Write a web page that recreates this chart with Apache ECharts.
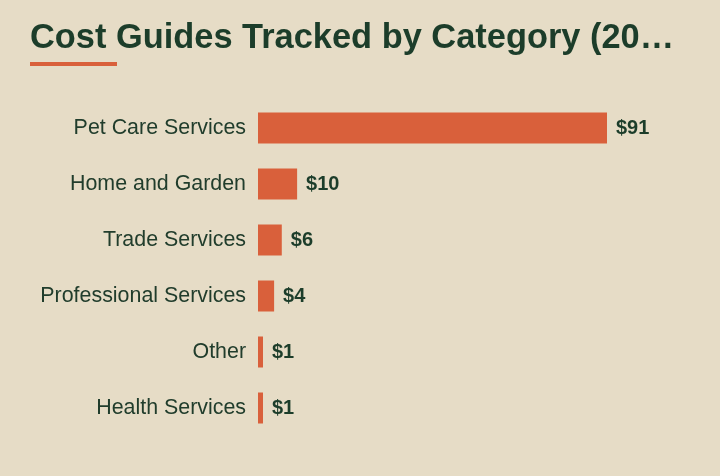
<!DOCTYPE html>
<html><head><meta charset="utf-8">
<script src="https://cdn.jsdelivr.net/npm/echarts@6/dist/echarts.min.js"></script>
<style>html,body{margin:0;padding:0;background:#e6dcc6;}#c{width:720px;height:476px;}</style>
</head><body><div id="c"></div>
<script>
var titleText = 'Cost Guides Tracked by Category (2024–2025)';
var categories = ['Pet Care Services','Home and Garden','Trade Services','Professional Services','Other','Health Services'];
var values = [91, 10.2, 6.2, 4.2, 1.3, 1.3];

var chart = echarts.init(document.getElementById('c'));
chart.setOption({
  backgroundColor: '#e6dcc6',
  animation: false,
  title: {
    text: titleText, left: 30, top: 22, padding: 0,
    textStyle: { fontFamily: 'Liberation Sans, Arial, sans-serif', fontWeight: 'bold', fontSize: 34.4, color: '#1c3d2a', width: 652, overflow: 'truncate', ellipsis: '…' }
  },
  graphic: [{ type: 'rect', left: 30, top: 62, shape: { width: 87, height: 4 }, style: { fill: '#d9603b' } }],
  grid: { left: 258, top: 100, height: 336, right: 113 },
  xAxis: { type: 'value', min: 0, max: 'dataMax', show: false },
  yAxis: {
    type: 'category', data: categories, inverse: true,
    axisLine: { show: false }, axisTick: { show: false },
    axisLabel: { margin: 12, fontFamily: 'Liberation Sans, Arial, sans-serif', fontSize: 21.4, color: '#213d2c' }
  },
  series: [{
    type: 'bar', data: values, barWidth: 31,
    itemStyle: { color: '#d9603b' },
    label: { show: true, position: 'right', distance: 9, formatter: function(p){ return '$' + Math.round(p.value); },
      fontFamily: 'Liberation Sans, Arial, sans-serif', fontWeight: 'bold', fontSize: 20, color: '#1c3d2a' }
  }]
});
</script></body></html>
